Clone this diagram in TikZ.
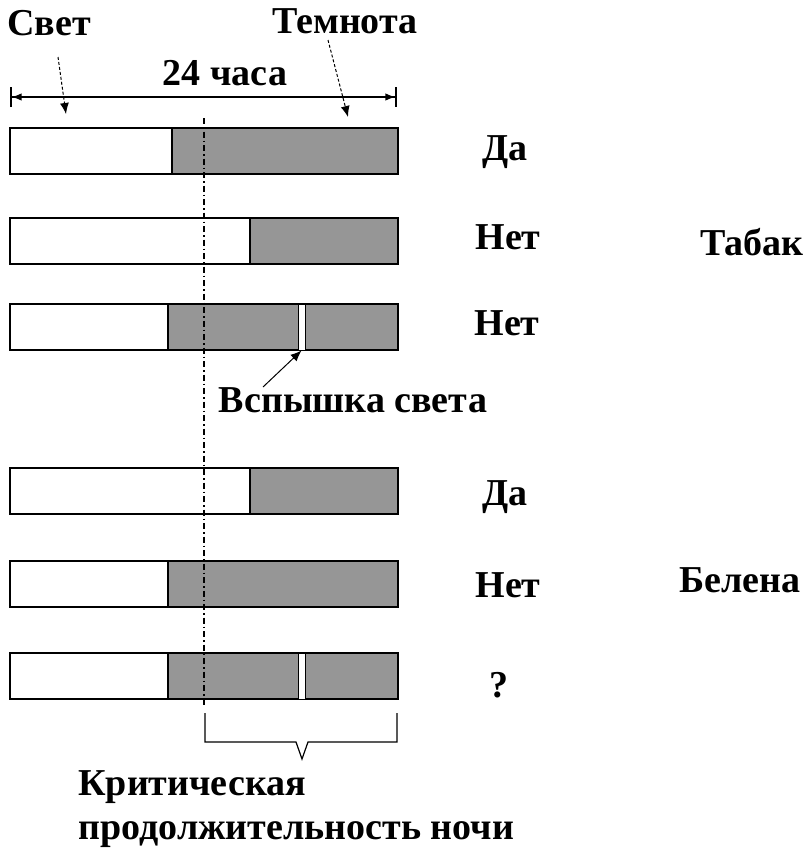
\documentclass[tikz,border=0pt]{standalone}
\usepackage{fontspec}
\setmainfont{Liberation Serif}
\usetikzlibrary{arrows.meta}
\definecolor{buio}{RGB}{150,150,150}

\begin{document}
\begin{tikzpicture}[x=1pt, y=-1pt, thick,
    font=\bfseries\fontsize{38}{44}\selectfont,
    giorno/.style = {draw, fill=white, line width=1.3pt},
    notte/.style = {draw, fill=buio, line width=1.3pt},
    lampo/.style = {draw, fill=white, line width=1pt, minimum width=7pt, minimum height=46pt, inner sep=0pt},
    etichetta/.style = {anchor=base, inner sep=0pt},
    freccia/.style = {densely dashed, line width=1pt, -{Latex[length=11pt, width=9pt]}}]
    \useasboundingbox (0,0) rectangle (808,849);

    % Disegna le barre
    \foreach \yt/\xs in {128/172, 218/250, 304/168, 468/250, 561/168, 653/168} {
        \draw[giorno] (10,\yt) rectangle (\xs,\yt+46);
        \draw[notte] (\xs,\yt) rectangle (398,\yt+46);
    }
    \node[lampo] (f1) at (301.5,327) {};
    \node[lampo] (f2) at (301.5,676) {};

    % Etichette in alto
    \node[etichetta] (luce) at (49,35) {Свет};
    \node[etichetta] (buio) at (345,33) {Темнота};
    \node[etichetta] (ore) at (225,85) {24 часа};
    \coordinate (a) at (10,97);
    \coordinate (b) at (397,97);
    \draw[line width=1.6pt, {Bar[width=20pt]Latex[length=10pt]}-{Latex[length=10pt]Bar[width=20pt]}] (a) to (b);
    \coordinate (l1) at (58,57);
    \coordinate (l2) at (66,114);
    \coordinate (b1) at (328,40);
    \coordinate (b2) at (348,117);
    \draw[freccia] (l1) to (l2);
    \draw[freccia] (b1) to (b2);

    % Risposte
    \node[etichetta] (da1) at (505,160) {Да};
    \node[etichetta] (net2) at (508,249) {Нет};
    \node[etichetta] (net3) at (507,335) {Нет};
    \node[etichetta] (da4) at (505,505) {Да};
    \node[etichetta] (net5) at (508,597) {Нет};
    \node[etichetta] (q6) at (499,697) {?};
    \node[etichetta] (tabak) at (752,255) {Табак};
    \node[etichetta] (belena) at (740,592) {Белена};

    % Lampo di luce
    \node[etichetta] (vsp) at (353,412) {Вспышка света};
    \coordinate (v1) at (263,387);
    \draw[line width=1pt, -{Latex[length=11pt, width=9pt]}] (v1) to (f1.south);

    % Durata critica
    \coordinate (c1) at (204,118);
    \coordinate (c2) at (204,705);
    \draw[line width=1.5pt, dash pattern=on 6pt off 3pt on 1.5pt off 3pt] (c1) to (c2);
    \coordinate (p1) at (205,713);
    \coordinate (p2) at (397,713);
    \coordinate (pv) at (302,759);
    \draw[line width=1.2pt] (p1) -- (205,742) -- (296,742) -- (pv) -- (308,742) -- (397,742) -- (p2);
    \node[etichetta, anchor=base west] (crit) at (78,795) {Критическая};
    \node[etichetta, anchor=base west] (notte) at (78,839) {продолжительность ночи};

\end{tikzpicture}
\end{document}
